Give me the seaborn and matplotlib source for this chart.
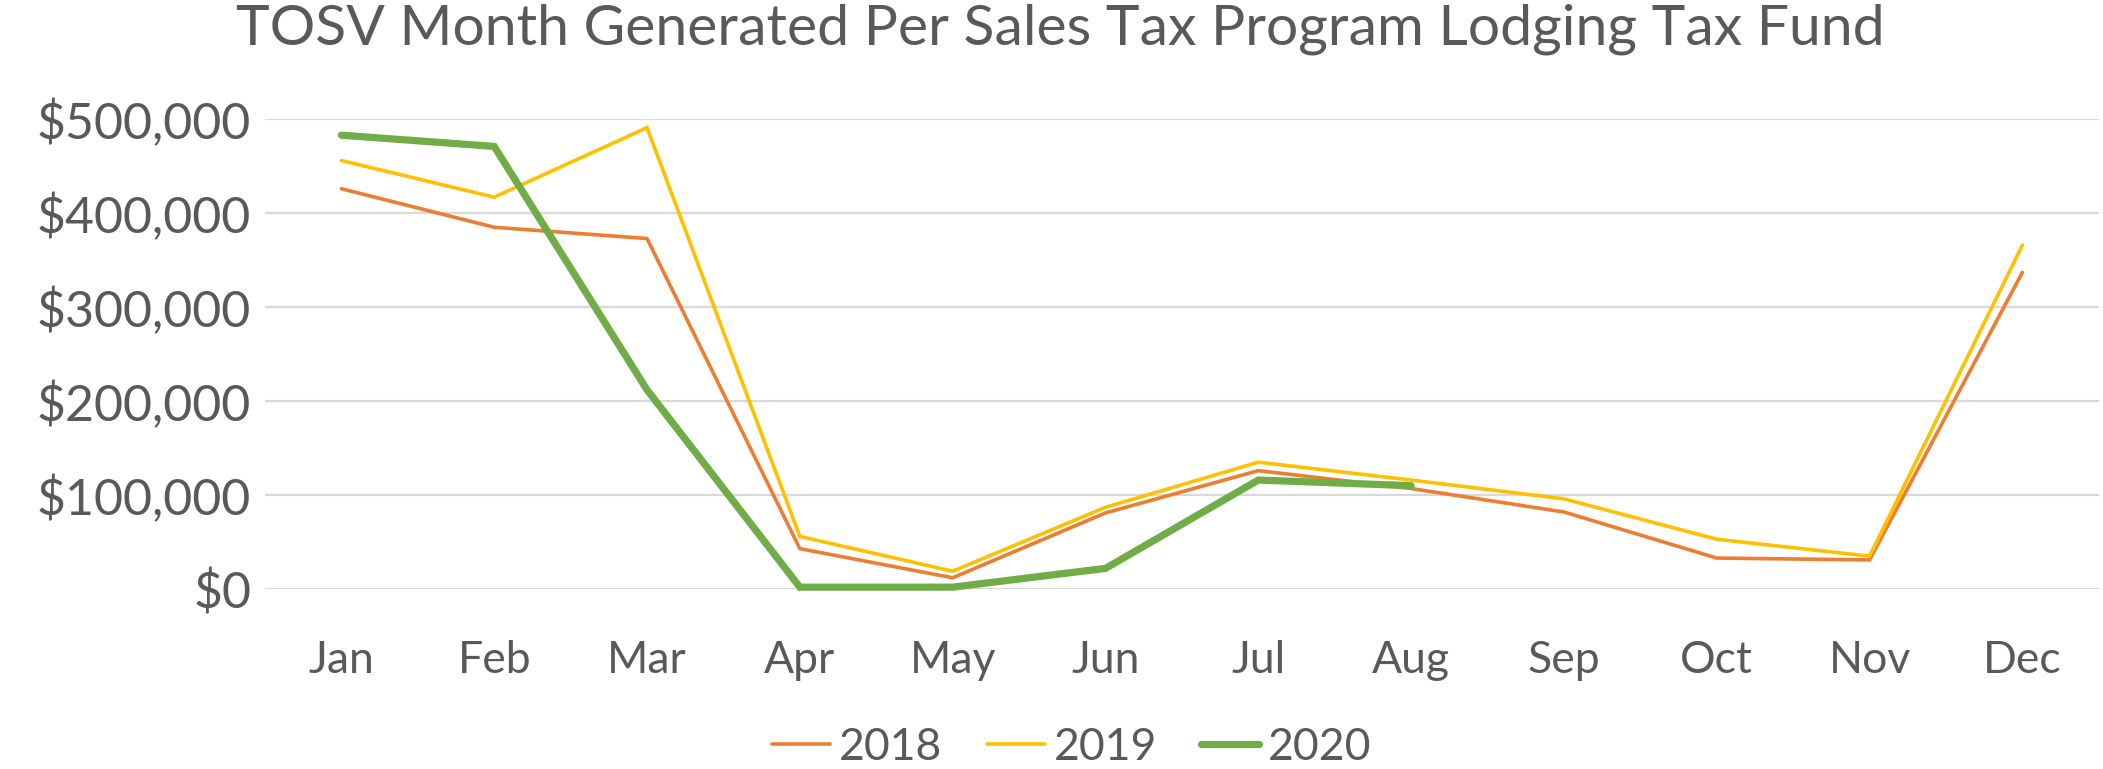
import pandas as pd
import numpy as np
from matplotlib import pyplot as plt
from matplotlib.ticker import FuncFormatter
import seaborn as sns

sns.set_style('white')
plt.rcParams['font.family'] = ['Lato', 'DejaVu Sans']

months = ['Jan', 'Feb', 'Mar', 'Apr', 'May', 'Jun',
          'Jul', 'Aug', 'Sep', 'Oct', 'Nov', 'Dec']
y2018 = [426000, 385000, 373000, 43000, 12000, 81000,
         126000, 107000, 82000, 33000, 31000, 337000]
y2019 = [456000, 417000, 491000, 56000, 19000, 87000,
         135000, 116000, 96000, 53000, 35000, 366000]
y2020 = [483000, 471000, 212000, 2000, 2000, 22000,
         116000, 110000, np.nan, np.nan, np.nan, np.nan]

series = {'2018': y2018, '2019': y2019, '2020': y2020}
colors = {'2018': '#ED7D31', '2019': '#FFC000', '2020': '#70AD47'}
widths = {'2018': 2.6, '2019': 2.6, '2020': 5.2}

text_col = '#595959'

fig = plt.figure(figsize=(21.03, 7.69), dpi=100)
ax = fig.add_axes([0.126, 0.234, 0.872, 0.611])

for year, vals in series.items():
    df = pd.DataFrame({'x': np.arange(len(months)), 'y': vals}).dropna()
    sns.lineplot(data=df, x='x', y='y', ax=ax, color=colors[year],
                 linewidth=widths[year], label=year, clip_on=False,
                 solid_capstyle='round', solid_joinstyle='miter')

ax.set_xlim(-0.5, 11.5)
ax.set_ylim(0, 500000)
ax.set_yticks(np.arange(0, 500001, 100000))
ax.yaxis.set_major_formatter(FuncFormatter(lambda v, p: f'${v:,.0f}'))
ax.set_xticks(np.arange(len(months)))
ax.set_xticklabels(months)
ax.grid(axis='y', color='#D9D9D9', linewidth=1.6)
ax.set_axisbelow(True)
for s in ax.spines.values():
    s.set_visible(False)
ax.tick_params(axis='y', length=0, pad=10, labelsize=36, labelcolor=text_col)
ax.tick_params(axis='x', length=0, pad=37, labelsize=32, labelcolor=text_col)
ax.set_xlabel('')
ax.set_ylabel('')

fig.suptitle('TOSV Month Generated Per Sales Tax Program Lodging Tax Fund',
             x=0.504, y=0.995, fontsize=41, color=text_col, va='top')

leg = ax.legend(loc='lower center', bbox_to_anchor=(0.44, -0.465), ncol=3,
                frameon=False, fontsize=32, handlelength=1.3,
                handletextpad=0.2, columnspacing=1.0)
for t in leg.get_texts():
    t.set_color(text_col)

fig.savefig('out.png', dpi=100)
